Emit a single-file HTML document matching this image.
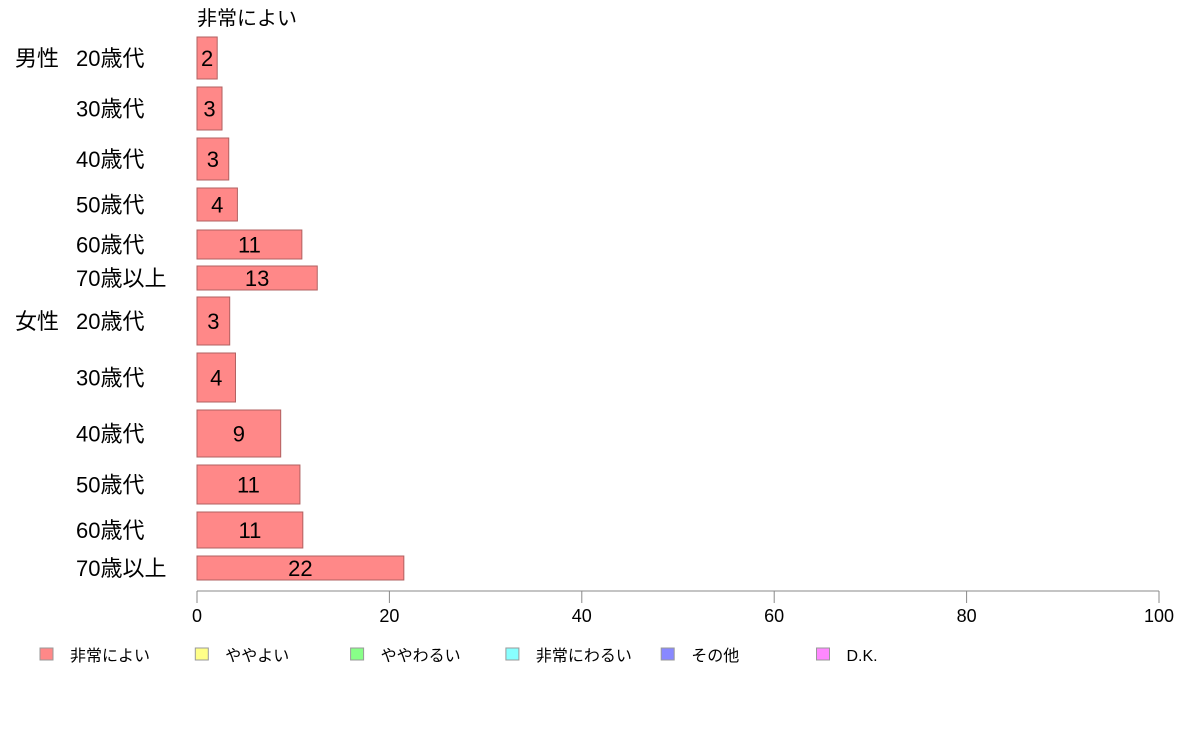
<!DOCTYPE html>
<html><head><meta charset="utf-8"><style>
body{margin:0;background:#fff;}
svg{display:block;font-family:"Liberation Sans","Noto Sans CJK JP",sans-serif;}
</style></head><body>
<svg id="chart" width="1188" height="736">
<text x="197" y="25" font-size="20" fill="#000">非常によい</text>
<g id="bars"></g>
<g id="axis"></g>
<g id="legend"></g>
</svg>
<script>
const groups = ["男性","","","","","","女性","","","","",""];
const categories = ["20歳代","30歳代","40歳代","50歳代","60歳代","70歳以上","20歳代","30歳代","40歳代","50歳代","60歳代","70歳以上"];
const values = [2.1, 2.6, 3.3, 4.2, 10.9, 12.5, 3.4, 4.0, 8.7, 10.7, 11.0, 21.5];
const labels = ["2","3","3","4","11","13","3","4","9","11","11","22"];
const rowTops = [37, 87, 138, 188, 230, 266, 297, 353, 410, 465, 512, 556];
const rowBottoms = [79, 130, 180, 221, 259, 290, 345, 402, 457, 504, 548, 580];
const ticks = [0, 20, 40, 60, 80, 100];
const legendNames = ["非常によい","ややよい","ややわるい","非常にわるい","その他","D.K."];
const legendColors = ["#ff8888","#ffff88","#88ff88","#88ffff","#8888ff","#ff88ff"];

const NS = "http://www.w3.org/2000/svg";
const x0 = 197, x1 = 1159;
const xs = v => x0 + (v / 100) * (x1 - x0);
function mk(tag, attrs, parent, text){
  const e = document.createElementNS(NS, tag);
  for (const k in attrs) e.setAttribute(k, attrs[k]);
  if (text !== undefined) e.textContent = text;
  parent.appendChild(e);
  return e;
}
const bars = document.getElementById("bars");
values.forEach((v, i) => {
  const t = rowTops[i], b = rowBottoms[i], cy = (t + b) / 2;
  const r = mk("rect", {x: x0, y: t, width: xs(v) - x0, height: b - t, fill: "#ff8888", stroke: "#b06060", "stroke-width": 1}, bars);
  
  
  const vl = mk("text", {x: (x0 + xs(v)) / 2, y: cy + 8, "font-size": 22, "text-anchor": "middle", fill: "#000"}, bars, labels[i]);
  
  
  const cl = mk("text", {x: 76, y: cy + 8, "font-size": 22, fill: "#000"}, bars, categories[i]);
  
  
  if (groups[i]) {
    const gl = mk("text", {x: 15, y: cy + 8, "font-size": 22, fill: "#000"}, bars, groups[i]);
    
    
  }
});
const axis = document.getElementById("axis");
const al = mk("line", {x1: x0, x2: x1, y1: 591, y2: 591, stroke: "#888", "stroke-width": 1}, axis);


ticks.forEach(t => {
  const tl = mk("line", {x1: xs(t), x2: xs(t), y1: 591, y2: 603, stroke: "#888", "stroke-width": 1}, axis);
  
  
  const tx = mk("text", {x: xs(t), y: 622, "font-size": 18, "text-anchor": "middle", fill: "#000"}, axis, String(t));
  
  
});
const legend = document.getElementById("legend");
legendNames.forEach((n, i) => {
  const lx = 40 + i * 155.3;
  const box = mk("rect", {x: lx, y: 648, width: 13, height: 12, fill: legendColors[i], stroke: "#999", "stroke-width": 1}, legend);
  
  
  const lt = mk("text", {x: lx + 30, y: 661, "font-size": 16, fill: "#000"}, legend, n);
  
  
});
</script>
</body></html>
